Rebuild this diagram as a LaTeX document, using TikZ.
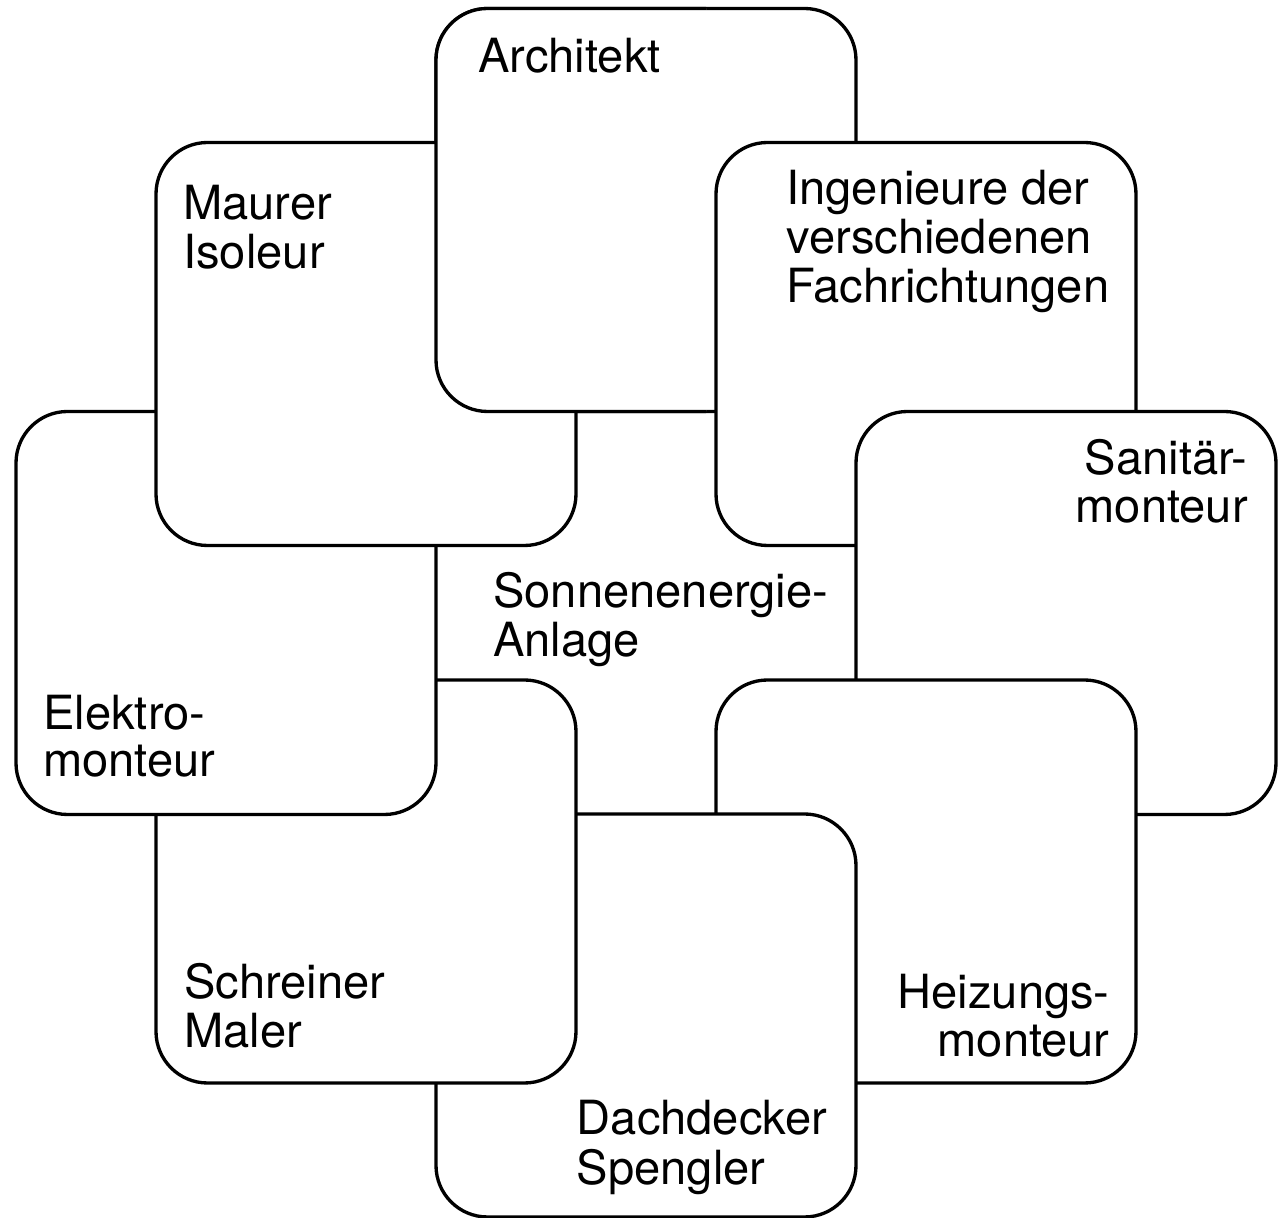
\documentclass[tikz,border=0pt]{standalone}
\usepackage{fontspec}
\setmainfont{TeX Gyre Heros}
\usetikzlibrary{calc}

\begin{document}
\begin{tikzpicture}
			\tikzstyle{box}=[draw, fill=white, line width=1.9pt, rounded corners=1.03cm, minimum width=8.4cm, minimum height=8.06cm, inner sep=0pt, outer sep=0pt]
			\tikzstyle{boxline}=[draw, fill=white, line width=1.9pt, rounded corners=1.03cm]
			\tikzstyle{txt}=[inner sep=0pt, font=\fontsize{26.8}{27}\selectfont]

			\newcommand{\LeftLines}[1]{\begin{tabular}[t]{@{}l@{}}#1\end{tabular}}
			\newcommand{\RightLines}[1]{\begin{tabular}[t]{@{}r@{}}#1\end{tabular}}

			\useasboundingbox (0,0) rectangle (25.62,24.36);

			\node (arch) [box] at (12.92,20.16) {};
			\node (ing) [box] at (18.52,17.48) {};
			\node (san) [box] at (21.32,12.10) {};
			\node (heiz) [box] at (18.52,6.73) {};
			\node (dach) [box] at (12.92,4.05) {};
			\node (schrein) [box] at (7.32,6.73) {};
			\node (elek) [box] at (4.52,12.10) {};
			\node (maur) [box] at (7.32,17.48) {};

			\begin{scope}
				\clip ($(arch.north west)+(-0.3,0.3)$) rectangle ($(ing.west |- arch.south)+(-0.2,-0.3)$);
				\draw [boxline] (arch.south west) rectangle (arch.north east);
			\end{scope}

			\node (archtext) [txt, anchor=base west] at ($(arch.north west) + (0.84, -1.28)$) {Architekt};
			\node (maurtext) [txt, anchor=base west] at ($(maur.north west) + (0.54, -1.55)$) {\LeftLines{Maurer\\Isoleur}};
			\node (ingtext) [txt, anchor=base west] at ($(ing.north west) + (1.40, -1.25)$) {\LeftLines{Ingenieure der\\verschiedenen\\Fachrichtungen}};
			\node (santext) [txt, anchor=base east] at ($(san.north east) + (-0.56, -1.27)$) {\RightLines{Sanitär-\\monteur}};
			\node (elektext) [txt, anchor=base west] at ($(elek.south west) + (0.54, 1.70)$) {\LeftLines{Elektro-\\monteur}};
			\node (schreintext) [txt, anchor=base west] at ($(schrein.south west) + (0.56, 1.68)$) {\LeftLines{Schreiner\\Maler}};
			\node (dachtext) [txt, anchor=base west] at ($(dach.south west) + (2.81, 1.64)$) {\LeftLines{Dachdecker\\Spengler}};
			\node (heiztext) [txt, anchor=base east] at ($(heiz.south east) + (-0.52, 1.48)$) {\RightLines{Heizungs-\\monteur}};

			\node (sonnetext) [txt, anchor=base west] at (9.86,12.20) {\LeftLines{Sonnenenergie-\\Anlage}};
		\end{tikzpicture}
\end{document}
